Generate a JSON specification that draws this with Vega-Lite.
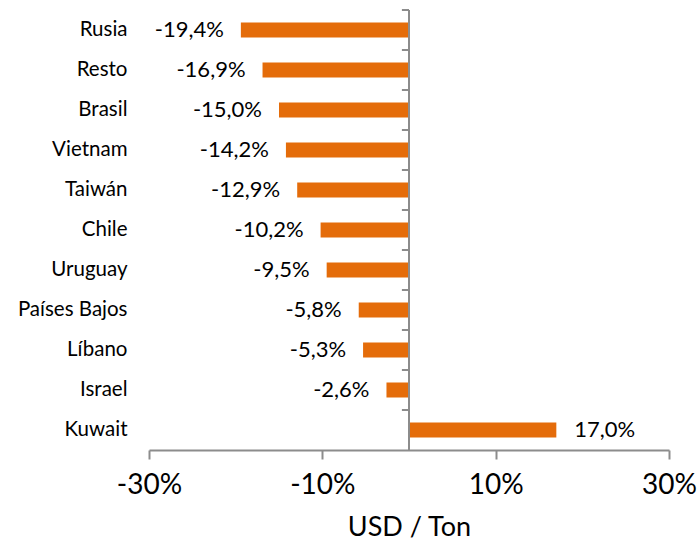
{
  "$schema": "https://vega.github.io/schema/vega-lite/v6.json",
  "width": 520,
  "height": 440,
  "autosize": {"type": "none"},
  "padding": {"left": 149, "top": 10, "right": 31, "bottom": 92},
  "background": "white",
  "config": {
    "view": {"stroke": null},
    "font": "Lato",
    "locale": {"number": {"decimal": ",", "thousands": ".", "grouping": [3], "currency": ["$", ""], "minus": "-"}}
  },
  "data": {
    "values": [
      {"pais": "Rusia", "var": -0.194},
      {"pais": "Resto", "var": -0.169},
      {"pais": "Brasil", "var": -0.150},
      {"pais": "Vietnam", "var": -0.142},
      {"pais": "Taiwán", "var": -0.129},
      {"pais": "Chile", "var": -0.102},
      {"pais": "Uruguay", "var": -0.095},
      {"pais": "Países Bajos", "var": -0.058},
      {"pais": "Líbano", "var": -0.053},
      {"pais": "Israel", "var": -0.026},
      {"pais": "Kuwait", "var": 0.170}
    ]
  },
  "layer": [
    {
      "mark": {"type": "bar", "color": "#E46C0A"},
      "encoding": {
        "y": {"field": "pais", "type": "nominal", "sort": null,
          "scale": {"paddingInner": 0.62, "paddingOuter": 0.31},
          "axis": {"orient": "left", "title": null, "domain": false, "ticks": false, "labelPadding": 22,
            "labelFontSize": 20.5, "labelColor": "#000000", "labelFont": "Lato"}},
        "x": {"field": "var", "type": "quantitative",
          "scale": {"domain": [-0.3, 0.3], "nice": false, "zero": false},
          "axis": {"title": "USD / Ton", "titleFontSize": 27, "titleFontWeight": "normal", "titleColor": "#000000",
            "titlePadding": 15,
            "values": [-0.3, -0.1, 0.1, 0.3], "format": ".0%", "labelFlush": false, "labelOverlap": false,
            "labelFontSize": 28, "labelColor": "#000000", "labelPadding": 12,
            "domainColor": "#8C8C8C", "domainWidth": 2, "tickColor": "#8C8C8C", "tickWidth": 2, "tickSize": 9,
            "grid": false}}
      }
    },
    {
      "mark": {"type": "rule", "color": "#8C8C8C", "strokeWidth": 2},
      "encoding": {"x": {"datum": 0}}
    },
    {
      "mark": {"type": "rule", "color": "#8C8C8C", "strokeWidth": 2, "yOffset": -20},
      "encoding": {
        "y": {"field": "pais", "type": "nominal", "sort": null},
        "x": {"datum": 0},
        "x2": {"datum": -0.0082}
      }
    },
    {
      "transform": [{"filter": "datum.var < 0"}],
      "mark": {"type": "text", "align": "right", "baseline": "middle", "dx": -17, "fontSize": 22, "color": "#000000"},
      "encoding": {
        "text": {"field": "var", "type": "quantitative", "format": ".1%"},
        "x": {"field": "var", "type": "quantitative"},
        "y": {"field": "pais", "type": "nominal", "sort": null}
      }
    },
    {
      "transform": [{"filter": "datum.var > 0"}],
      "mark": {"type": "text", "align": "left", "baseline": "middle", "dx": 18, "fontSize": 22, "color": "#000000"},
      "encoding": {
        "text": {"field": "var", "type": "quantitative", "format": ".1%"},
        "x": {"field": "var", "type": "quantitative"},
        "y": {"field": "pais", "type": "nominal", "sort": null}
      }
    }
  ]
}
